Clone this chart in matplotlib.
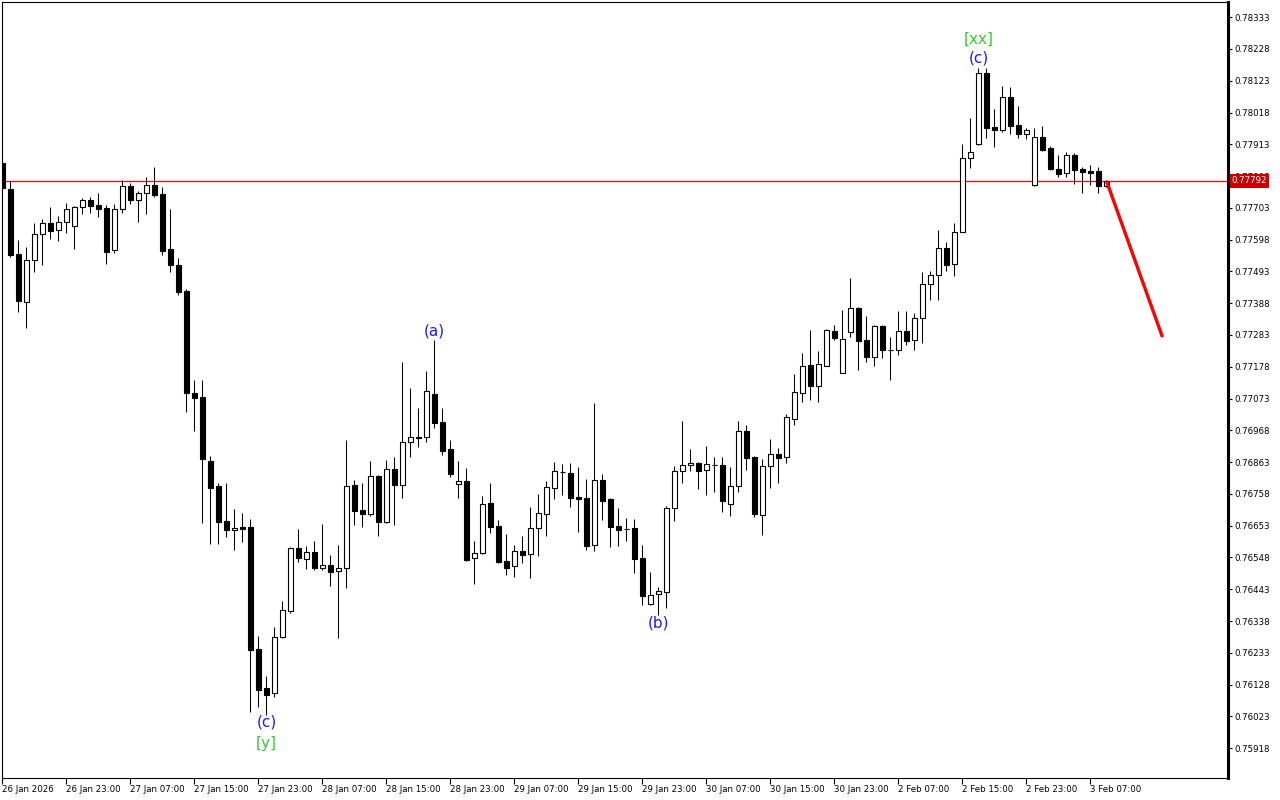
import numpy as np
import matplotlib
matplotlib.use('Agg')
import matplotlib.pyplot as plt  # import the module for plotting data
from matplotlib.patches import Rectangle

# H1 candles, 26 Jan 15:00 .. 3 Feb 09:00 (weekend skipped)
open_ = [0.77851, 0.77766, 0.77551, 0.77392, 0.77531, 0.77617, 0.77653, 0.77630, 0.77657, 0.77643,
         0.77706, 0.77729, 0.77713, 0.77703, 0.77564, 0.77700, 0.77775, 0.77729, 0.77752, 0.77779,
         0.77749, 0.77567, 0.77515, 0.77429, 0.77092, 0.77078, 0.76867, 0.76784, 0.76669, 0.76639,
         0.76649, 0.76649, 0.76246, 0.76117, 0.76101, 0.76286, 0.76372, 0.76580, 0.76543, 0.76566,
         0.76514, 0.76524, 0.76504, 0.76514, 0.76788, 0.76705, 0.76692, 0.76817, 0.76665, 0.76841,
         0.76788, 0.76930, 0.76946, 0.76946, 0.77088, 0.76996, 0.76907, 0.76791, 0.76801, 0.76547,
         0.76563, 0.76728, 0.76652, 0.76537, 0.76520, 0.76570, 0.76560, 0.76646, 0.76692, 0.76778,
         0.76831, 0.76827, 0.76748, 0.76745, 0.76590, 0.76804, 0.76741, 0.76652, 0.76642, 0.76646,
         0.76547, 0.76395, 0.76428, 0.76434, 0.76712, 0.76834, 0.76854, 0.76860, 0.76837, 0.76854,
         0.76854, 0.76725, 0.76784, 0.76966, 0.76880, 0.76689, 0.76851, 0.76890, 0.76880, 0.77006,
         0.77092, 0.77184, 0.77115, 0.77181, 0.77296, 0.77158, 0.77293, 0.77372, 0.77267, 0.77211,
         0.77313, 0.77234, 0.77234, 0.77296, 0.77267, 0.77340, 0.77452, 0.77482, 0.77571, 0.77518,
         0.77624, 0.77868, 0.77914, 0.78149, 0.77970, 0.77960, 0.78070, 0.77977, 0.77947, 0.77779,
         0.77937, 0.77901, 0.77832, 0.77818, 0.77878, 0.77832, 0.77825, 0.77825, 0.77775]
high = [0.77861, 0.77792, 0.77597, 0.77574, 0.77653, 0.77667, 0.77706, 0.77676, 0.77719, 0.77709,
        0.77736, 0.77739, 0.77752, 0.77713, 0.77716, 0.77795, 0.77785, 0.77759, 0.77805, 0.77838,
        0.77772, 0.77700, 0.77538, 0.77435, 0.77135, 0.77135, 0.76884, 0.76794, 0.76794, 0.76708,
        0.76695, 0.76675, 0.76289, 0.76157, 0.76319, 0.76405, 0.76583, 0.76642, 0.76586, 0.76603,
        0.76659, 0.76557, 0.76590, 0.76936, 0.76804, 0.76794, 0.76867, 0.76821, 0.76870, 0.76880,
        0.77194, 0.77108, 0.77042, 0.77164, 0.77267, 0.77042, 0.76936, 0.76867, 0.76844, 0.76603,
        0.76751, 0.76794, 0.76672, 0.76626, 0.76590, 0.76619, 0.76715, 0.76758, 0.76801, 0.76864,
        0.76857, 0.76860, 0.76847, 0.76808, 0.77059, 0.76824, 0.76743, 0.76712, 0.76679, 0.76675,
        0.76590, 0.76500, 0.76451, 0.76718, 0.76851, 0.76999, 0.76907, 0.76864, 0.76917, 0.76880,
        0.76880, 0.76847, 0.76999, 0.76986, 0.76884, 0.76874, 0.76940, 0.76910, 0.77022, 0.77154,
        0.77224, 0.77300, 0.77230, 0.77303, 0.77316, 0.77366, 0.77472, 0.77374, 0.77346, 0.77316,
        0.77316, 0.77277, 0.77363, 0.77363, 0.77356, 0.77491, 0.77495, 0.77630, 0.77591, 0.77653,
        0.77914, 0.78000, 0.78165, 0.78165, 0.78030, 0.78106, 0.78103, 0.78040, 0.77967, 0.77967,
        0.77974, 0.77908, 0.77878, 0.77888, 0.77885, 0.77838, 0.77845, 0.77838, 0.77795]
low = [0.77762, 0.77541, 0.77359, 0.77306, 0.77491, 0.77515, 0.77600, 0.77594, 0.77620, 0.77567,
       0.77683, 0.77686, 0.77673, 0.77518, 0.77554, 0.77686, 0.77716, 0.77657, 0.77683, 0.77739,
       0.77548, 0.77491, 0.77415, 0.77029, 0.76966, 0.76662, 0.76593, 0.76593, 0.76616, 0.76573,
       0.76599, 0.76038, 0.76054, 0.76028, 0.76087, 0.76282, 0.76365, 0.76533, 0.76510, 0.76507,
       0.76507, 0.76454, 0.76282, 0.76447, 0.76656, 0.76649, 0.76685, 0.76619, 0.76662, 0.76656,
       0.76745, 0.76880, 0.76913, 0.76930, 0.76976, 0.76887, 0.76814, 0.76745, 0.76537, 0.76461,
       0.76560, 0.76629, 0.76530, 0.76490, 0.76484, 0.76530, 0.76480, 0.76553, 0.76619, 0.76741,
       0.76755, 0.76715, 0.76633, 0.76573, 0.76570, 0.76672, 0.76583, 0.76586, 0.76603, 0.76497,
       0.76391, 0.76391, 0.76358, 0.76381, 0.76669, 0.76794, 0.76834, 0.76775, 0.76755, 0.76765,
       0.76699, 0.76685, 0.76765, 0.76837, 0.76682, 0.76623, 0.76778, 0.76794, 0.76860, 0.76986,
       0.77062, 0.77069, 0.77062, 0.77179, 0.77267, 0.77156, 0.77277, 0.77168, 0.77194, 0.77181,
       0.77207, 0.77135, 0.77217, 0.77250, 0.77234, 0.77257, 0.77399, 0.77399, 0.77495, 0.77478,
       0.77622, 0.77835, 0.77911, 0.77934, 0.77904, 0.77954, 0.77947, 0.77934, 0.77931, 0.77775,
       0.77891, 0.77828, 0.77805, 0.77805, 0.77782, 0.77752, 0.77779, 0.77752, 0.77772]
close = [0.77769, 0.77548, 0.77396, 0.77531, 0.77617, 0.77653, 0.77627, 0.77657, 0.77700, 0.77706,
         0.77729, 0.77709, 0.77700, 0.77557, 0.77700, 0.77775, 0.77729, 0.77752, 0.77779, 0.77746,
         0.77561, 0.77515, 0.77425, 0.77092, 0.77075, 0.76874, 0.76778, 0.76665, 0.76639, 0.76646,
         0.76642, 0.76243, 0.76110, 0.76094, 0.76286, 0.76375, 0.76580, 0.76547, 0.76566, 0.76514,
         0.76524, 0.76500, 0.76514, 0.76784, 0.76702, 0.76692, 0.76817, 0.76665, 0.76841, 0.76788,
         0.76930, 0.76946, 0.76943, 0.77098, 0.76993, 0.76900, 0.76824, 0.76801, 0.76540, 0.76563,
         0.76725, 0.76649, 0.76533, 0.76514, 0.76570, 0.76557, 0.76646, 0.76695, 0.76781, 0.76834,
         0.76832, 0.76745, 0.76741, 0.76586, 0.76804, 0.76735, 0.76649, 0.76639, 0.76641, 0.76543,
         0.76421, 0.76424, 0.76438, 0.76712, 0.76834, 0.76854, 0.76860, 0.76834, 0.76857, 0.76855,
         0.76735, 0.76784, 0.76966, 0.76877, 0.76692, 0.76851, 0.76890, 0.76877, 0.77012, 0.77095,
         0.77181, 0.77115, 0.77187, 0.77300, 0.77273, 0.77270, 0.77372, 0.77263, 0.77211, 0.77313,
         0.77234, 0.77233, 0.77296, 0.77263, 0.77340, 0.77452, 0.77482, 0.77571, 0.77515, 0.77624,
         0.77868, 0.77888, 0.78149, 0.77967, 0.77960, 0.78070, 0.77974, 0.77947, 0.77960, 0.77937,
         0.77894, 0.77832, 0.77815, 0.77878, 0.77828, 0.77822, 0.77818, 0.77775, 0.77792]

time_labels = ['26 Jan 2026', '26 Jan 23:00', '27 Jan 07:00', '27 Jan 15:00', '27 Jan 23:00',
               '28 Jan 07:00', '28 Jan 15:00', '28 Jan 23:00', '29 Jan 07:00', '29 Jan 15:00',
               '29 Jan 23:00', '30 Jan 07:00', '30 Jan 15:00', '30 Jan 23:00', '2 Feb 07:00',
               '2 Feb 15:00', '2 Feb 23:00', '3 Feb 07:00']
label_every = 8  # one time label every 8 bars

last_price = 0.77792

# red projection line (bar index, price)
forecast_bars = [138, 145]
forecast_prices = [0.77792, 0.77276]

# wave marks
wave_text = ['(a)', '(b)', '(c)', '[y]', '(c)', '[xx]']
wave_bars = [54, 82, 33, 33, 122, 122]
wave_prices = [0.77296, 0.76332, 0.76005, 0.75935, 0.78198, 0.78261]
wave_colors = ['#1a1aff', '#1a1aff', '#1a1aff', '#33cc33', '#1a1aff', '#33cc33']

plt.rcParams['font.family'] = ['DejaVu Sans']

fig = plt.figure(figsize=(12.8, 8), dpi=100)
ax = fig.add_axes([2 / 1280, 22 / 800, 1226 / 1280, 776 / 800])

n = len(close)
bars = np.arange(n)

# wicks
ax.vlines(bars, low, high, color='black', linewidth=0.75, zorder=2)

# bodies: white = up bar, black = down bar
body_w = 0.56
for i in range(n):
    bottom = min(open_[i], close[i])
    height = abs(close[i] - open_[i])
    fc = 'white' if close[i] >= open_[i] else 'black'
    ax.add_patch(Rectangle((bars[i] - body_w / 2, bottom), body_w, height,
                           facecolor=fc, edgecolor='black', linewidth=0.8, zorder=3))

# current price line
ax.axhline(last_price, color='#ff0000', linewidth=0.9, zorder=1)

# projection
ax.plot(forecast_bars, forecast_prices, color='#ff0000', linewidth=2.4,
        solid_capstyle='butt', zorder=4)

for t, b, p, c in zip(wave_text, wave_bars, wave_prices, wave_colors):
    ax.text(b, p, t, color=c, fontsize=11, ha='center', va='center', zorder=5)

ax.set_xlim(-0.0625, 153.19)
ax.set_ylim(0.758195, 0.783831)

# price scale on the right
price_ticks = 0.75918 + 0.00105 * np.arange(24)
ax.yaxis.tick_right()
ax.set_yticks(price_ticks)
ax.set_yticklabels(['%.5f' % v for v in price_ticks])
ax.tick_params(axis='y', direction='out', length=3, width=0.8, labelsize=6.2, pad=1.5)

ax.set_xticks(np.arange(0, label_every * len(time_labels), label_every))
ax.set_xticklabels(time_labels)
plt.setp(ax.get_xticklabels(), ha='left')
ax.tick_params(axis='x', direction='out', length=4, width=0.8, labelsize=6.2, pad=1)

for side in ['left', 'top', 'bottom']:
    ax.spines[side].set_linewidth(0.8)
ax.spines['right'].set_linewidth(2.2)

# price tag for the last close (covers the 0.77808 label, as on the terminal)
ax.text(1.003, last_price, '%.5f' % last_price, transform=ax.get_yaxis_transform(),
        ha='left', va='center', color='white', fontsize=6.2, zorder=6,
        bbox=dict(boxstyle='square,pad=0.25', facecolor='#cc0000', edgecolor='none'))

fig.savefig('out.png', dpi=100)
